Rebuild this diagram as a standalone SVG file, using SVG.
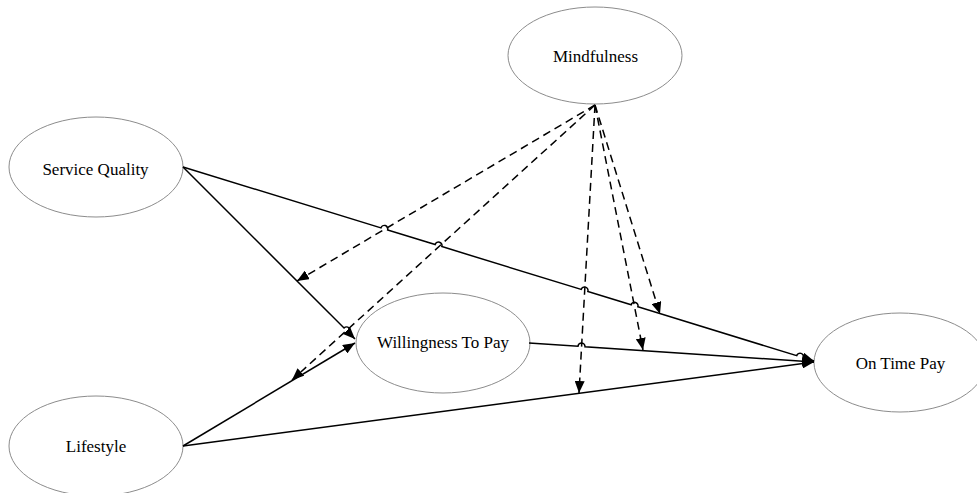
<svg xmlns="http://www.w3.org/2000/svg" width="977" height="493" viewBox="0 0 977 493">
<style>
.node ellipse{fill:#fff;stroke:#8c8c8c;stroke-width:1}
.node text{font-family:"Liberation Serif","Times New Roman",serif;font-size:17px;fill:#000;text-anchor:middle}
.edge{fill:none;stroke:#000;stroke-width:1.5}
.dash{stroke-dasharray:8 5}
</style>
<defs>
<marker id="arr" viewBox="0 0 12 10" refX="12" refY="5" markerWidth="12" markerHeight="10" markerUnits="userSpaceOnUse" orient="auto">
<path d="M0,0 L12,5 L0,10 z" fill="#000"/>
</marker>
</defs>
<rect width="977" height="493" fill="#fff"/>
<g id="nodes">
<g id="mindfulness" class="node"><ellipse cx="595" cy="55.5" rx="87" ry="48.5"/><text x="595.5" y="62">Mindfulness</text></g>
<g id="service-quality" class="node"><ellipse cx="96" cy="167" rx="87" ry="50"/><text x="95.5" y="175">Service Quality</text></g>
<g id="willingness" class="node"><ellipse cx="443" cy="343" rx="87" ry="50"/><text x="443" y="348">Willingness To Pay</text></g>
<g id="on-time-pay" class="node"><ellipse cx="900" cy="362.5" rx="86" ry="49.5"/><text x="900.5" y="369">On Time Pay</text></g>
<g id="lifestyle" class="node"><ellipse cx="96" cy="446" rx="87" ry="50"/><text x="96" y="452">Lifestyle</text></g>
</g>
<g id="connectors">
<path class="edge" marker-end="url(#arr)" d="M183,167 L380.96,227.87 A3.5,3.5 0 0 1 387.65,229.93 L435.16,244.52 A3.5,3.5 0 0 1 441.85,246.58 L581.16,289.41 A3.5,3.5 0 0 1 587.85,291.47 L631.16,304.77 A3.5,3.5 0 0 1 637.85,306.83 L796.66,355.67 A3.5,3.5 0 0 1 803.35,357.73 L814,361"/>
<path class="edge" marker-end="url(#arr)" d="M183,167 L344.03,328.03 A3.5,3.5 0 0 1 348.98,332.98 L355,339"/>
<path class="edge" marker-end="url(#arr)" d="M529,343 L578,346.27 A3.5,3.5 0 0 1 585,346.73 L814,362"/>
<path class="edge" marker-end="url(#arr)" d="M183,446 L355,343"/>
<path class="edge" marker-end="url(#arr)" d="M183,446 L814,362"/>
<path class="edge dash" marker-end="url(#arr)" d="M595,105 L297,281"/>
<path class="edge dash" marker-end="url(#arr)" d="M595,105 L292,380"/>
<path class="edge dash" marker-end="url(#arr)" d="M595,105 L579,393"/>
<path class="edge dash" marker-end="url(#arr)" d="M595,105 L643,350"/>
<path class="edge dash" marker-end="url(#arr)" d="M595,105 L660,314"/>
</g>
</svg>
